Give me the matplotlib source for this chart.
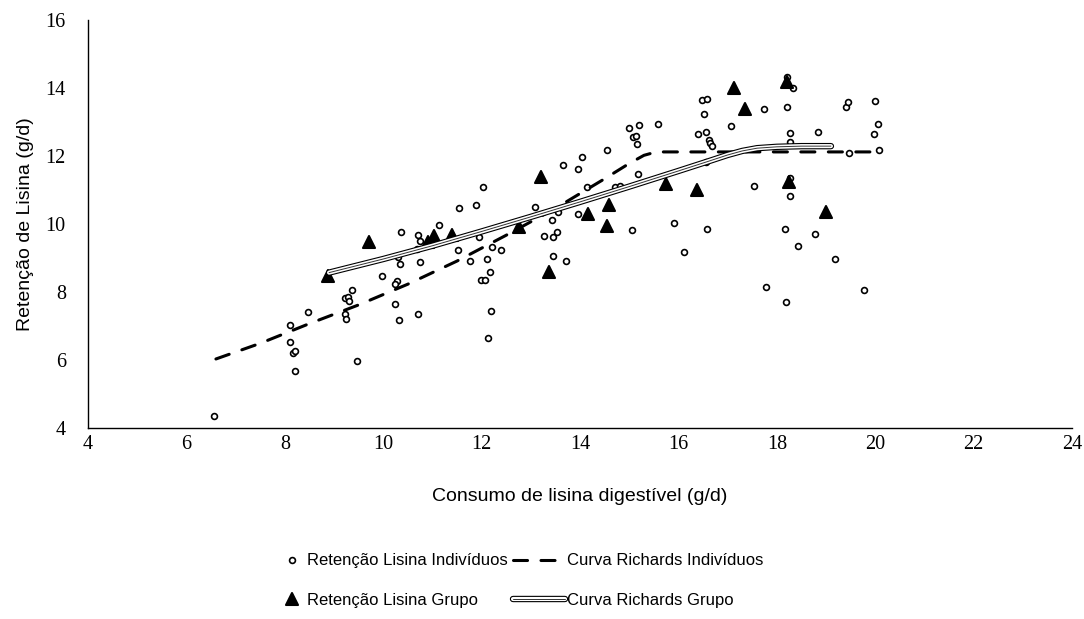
import matplotlib
matplotlib.use("Agg")
import matplotlib.pyplot as plt
from matplotlib.markers import MarkerStyle
from matplotlib.legend_handler import HandlerTuple
import numpy as np

# retenção individual (consumo, retenção)
ind_x = [6.57, 8.47, 8.11, 8.11, 8.17, 8.21, 8.21, 10.36, 10.70, 10.74, 11.13, 10.68,
         10.30, 10.34, 10.74, 9.97, 10.28, 10.23, 9.36, 9.22, 9.28, 9.30, 10.23, 9.22,
         9.24, 10.70, 10.32, 9.47, 13.66, 12.02, 11.55, 11.89, 13.09, 13.43, 13.55, 13.27,
         13.45, 13.53, 11.94, 11.53, 12.22, 12.40, 11.77, 12.10, 12.18, 11.98, 12.06, 13.45,
         13.72, 12.20, 12.12, 14.04, 13.96, 14.55, 14.14, 13.96, 14.71, 14.81, 15.17, 15.05,
         14.99, 15.19, 15.58, 15.07, 15.13, 15.15, 15.92, 16.11, 16.47, 16.59, 16.53, 16.39,
         16.57, 16.63, 16.65, 16.69, 17.06, 17.74, 18.21, 18.33, 18.21, 18.27, 18.27, 18.84,
         19.47, 19.40, 19.45, 19.99, 20.05, 19.97, 20.07, 16.57, 17.54, 18.27, 18.27, 16.59,
         18.17, 18.78, 18.43, 19.18, 17.79, 18.19, 19.77]
ind_y = [4.35, 7.41, 7.03, 6.53, 6.21, 6.26, 5.68, 9.76, 9.68, 9.50, 9.97, 9.26,
         9.03, 8.82, 8.88, 8.47, 8.32, 8.24, 8.06, 7.82, 7.85, 7.74, 7.65, 7.35,
         7.21, 7.35, 7.18, 5.97, 11.74, 11.09, 10.47, 10.56, 10.50, 10.12, 10.35, 9.65,
         9.62, 9.76, 9.62, 9.24, 9.32, 9.24, 8.91, 8.97, 8.59, 8.35, 8.35, 9.06,
         8.91, 7.44, 6.65, 11.97, 11.62, 12.18, 11.09, 10.29, 11.09, 11.12, 11.47, 9.82,
         12.82, 12.91, 12.94, 12.56, 12.59, 12.35, 10.03, 9.18, 13.65, 13.68, 13.24, 12.65,
         12.71, 12.47, 12.38, 12.29, 12.88, 13.38, 13.44, 14.00, 14.32, 12.68, 12.41, 12.71,
         12.09, 13.44, 13.59, 13.62, 12.94, 12.65, 12.18, 11.82, 11.12, 11.35, 10.82, 9.85,
         9.85, 9.71, 9.35, 8.97, 8.15, 7.71, 8.06]

# retenção por grupo
grp_x = [8.88, 9.71, 10.92, 11.04, 11.39, 12.77, 13.21, 13.37, 14.16, 14.59, 14.55,
         15.74, 16.37, 17.12, 17.36, 18.21, 18.25, 19.00]
grp_y = [8.47, 9.47, 9.47, 9.65, 9.68, 9.91, 11.38, 8.59, 10.29, 10.56, 9.94,
         11.18, 11.00, 14.00, 13.38, 14.18, 11.24, 10.35]

# curva de Richards - indivíduos
ri_x = [6.6, 7.5, 8.5, 9.5, 10.5, 11.5, 12.5, 13.5, 14.5, 15.0, 15.3, 15.5, 15.7, 16.5, 18.0, 20.1]
ri_y = [6.03, 6.49, 7.07, 7.62, 8.23, 8.91, 9.67, 10.46, 11.33, 11.78, 12.02, 12.10, 12.12,
        12.12, 12.12, 12.12]

# curva de Richards - grupo
rg_x = [8.9, 10.0, 11.0, 12.0, 13.0, 14.0, 15.0, 16.0, 16.6, 17.0, 17.3, 17.6, 18.0, 18.5, 19.1]
rg_y = [8.57, 8.97, 9.36, 9.78, 10.21, 10.65, 11.10, 11.56, 11.84, 12.03, 12.15, 12.23,
        12.27, 12.29, 12.29]

sans = ["Liberation Sans", "DejaVu Sans"]
serif = ["Liberation Serif", "DejaVu Serif"]

fig = plt.figure(figsize=(10.84, 6.19), dpi=100)
ax = fig.add_axes([88 / 1084, 1 - 428 / 619, 984 / 1084, 408 / 619])

h_ind, = ax.plot(ind_x, ind_y, linestyle="none", marker="o", ms=4.2, mew=1.2,
                 mfc="white", mec="black", zorder=3)
tri = MarkerStyle("^", joinstyle="round")
h_grp, = ax.plot(grp_x, grp_y, linestyle="none", marker=tri, ms=8, mew=1.5,
                 mfc="black", mec="black", zorder=4)
h_ri, = ax.plot(ri_x, ri_y, color="black", lw=2.2, linestyle=(0, (4.6, 4.4)),
                dash_capstyle="round", zorder=5)

# linha dupla: contorno preto, miolo branco, fio central
dbl = []
for c, w in [("black", 4.6), ("white", 3.0), ("#333333", 0.7)]:
    ln, = ax.plot(rg_x, rg_y, color=c, lw=w, solid_capstyle="round", zorder=6)
    dbl.append(ln)

ax.set_xlim(4, 24)
ax.set_ylim(4, 16)
ax.set_xticks(np.arange(4, 25, 2))
ax.set_yticks(np.arange(4, 17, 2))
for s in ["top", "right"]:
    ax.spines[s].set_visible(False)
for s in ["left", "bottom"]:
    ax.spines[s].set_linewidth(1.0)
ax.tick_params(axis="both", length=0, labelsize=14.5)
ax.tick_params(axis="y", pad=16)
ax.tick_params(axis="x", pad=5)
for lab in ax.get_xticklabels() + ax.get_yticklabels():
    lab.set_family(serif)

ax.set_xlabel("Consumo de lisina digestível (g/d)", family=sans, fontsize=14)
ax.set_ylabel("Retenção de Lisina (g/d)", family=sans, fontsize=14)
ax.xaxis.set_label_coords(0.5, -0.169)
ax.yaxis.set_label_coords(-0.064, 0.5)
ax.xaxis.label.set_va("center")
ax.yaxis.label.set_va("center")

leg_kw = dict(frameon=False, borderpad=0, borderaxespad=0, labelspacing=1.45,
              prop={"family": sans, "size": 12}, loc="center left")
leg1 = fig.legend([h_ind, h_grp], ["Retenção Lisina Indivíduos", "Retenção Lisina Grupo"],
                  bbox_to_anchor=(284 / 1084, 1 - 580.5 / 619), handlelength=1.0,
                  handletextpad=0.4, **leg_kw)
leg2 = fig.legend([h_ri, tuple(dbl)], ["Curva Richards Indivíduos", "Curva Richards Grupo"],
                  bbox_to_anchor=(513 / 1084, 1 - 580.5 / 619), handlelength=3.1,
                  handletextpad=0.15, handler_map={tuple: HandlerTuple(ndivide=1, pad=0)},
                  **leg_kw)

fig.savefig("out.png", dpi=100)
